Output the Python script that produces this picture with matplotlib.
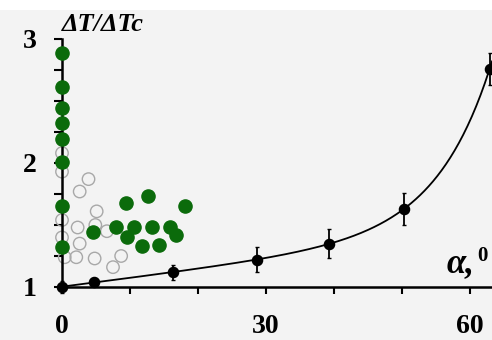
import matplotlib.pyplot as plt
import numpy as np
from matplotlib.ticker import MultipleLocator
from matplotlib.patches import Rectangle

# black series with fit line
alpha = [0, 4.7, 16.3, 28.7, 39.3, 50.3, 62.9]
ratio = [1.0, 1.04, 1.12, 1.22, 1.35, 1.63, 2.76]
ratio_err = [0.05, 0.03, 0.06, 0.10, 0.12, 0.13, 0.13]

# green filled points
green_x = [0, 0, 0, 0, 0, 0, 0, 0,
           4.5, 9.4, 12.7, 18.1, 8.0, 10.6, 13.3, 15.9, 9.5, 11.8, 14.3, 16.8]
green_y = [2.89, 2.61, 2.44, 2.32, 2.19, 2.01, 1.65, 1.32,
           1.44, 1.68, 1.73, 1.65, 1.48, 1.48, 1.48, 1.48, 1.40, 1.33, 1.34, 1.42]

# open circles
open_x = [0, 0, 3.9, 2.6, 5.1, 0, 2.3, 4.9, 6.6, 0, 2.6, 0.4, 2.1, 4.8, 8.7, 7.5]
open_y = [2.08, 1.93, 1.87, 1.77, 1.61, 1.54, 1.48, 1.50, 1.45, 1.40, 1.35,
          1.24, 1.24, 1.23, 1.25, 1.16]

serif = 'Liberation Serif'

fig = plt.figure(figsize=(4.92, 3.40), dpi=100, facecolor='#f3f3f3')
fig.patches.append(Rectangle((0, 0.97), 1, 0.03, transform=fig.transFigure,
                             facecolor='white', edgecolor='none', zorder=-1))
ax = fig.add_axes([62 / 492, 53 / 340, 430 / 492, 248 / 340])
ax.set_facecolor('#f3f3f3')

# fit y = a + m*x + b*exp(c*x)
xa = np.array(alpha)
ya = np.array(ratio)
best = None
for c in np.linspace(0.03, 0.25, 400):
    A = np.column_stack([np.ones_like(xa), xa, np.exp(c * xa)])
    coef, *_ = np.linalg.lstsq(A, ya, rcond=None)
    err = np.sum((A @ coef - ya) ** 2)
    if best is None or err < best[0]:
        best = (err, c, coef)
_, c, coef = best
xf = np.linspace(0, 63.24, 300)
yf = coef[0] + coef[1] * xf + coef[2] * np.exp(c * xf)
ax.plot(xf, yf, color='black', lw=1.3, clip_on=False, zorder=3)

ax.scatter(open_x, open_y, s=80, facecolors='none', edgecolors='#a8a8a8',
           linewidths=1.0, clip_on=False, zorder=2)
ax.scatter(green_x, green_y, s=90, color='#0b6b0b', clip_on=False, zorder=4)
ax.errorbar(alpha, ratio, yerr=ratio_err, fmt='o', color='black', ms=7.3,
            elinewidth=1.3, capsize=1.5, clip_on=False, zorder=5)

ax.set_xlim(0, 63.24)
ax.set_ylim(1, 3)
for s in ['top', 'right']:
    ax.spines[s].set_visible(False)
for s in ['left', 'bottom']:
    ax.spines[s].set_linewidth(1.8)

ax.set_xticks([0, 30, 60])
ax.xaxis.set_minor_locator(MultipleLocator(10))
ax.set_yticks([1, 2, 3])
ax.yaxis.set_minor_locator(MultipleLocator(0.25))
ax.tick_params(axis='x', which='both', direction='out', length=5, width=1.5, pad=14.5)
ax.tick_params(axis='y', which='both', direction='out', length=6, width=1.5, pad=12.5)
for lab in ax.get_xticklabels() + ax.get_yticklabels():
    lab.set_fontfamily(serif)
    lab.set_fontweight('bold')
    lab.set_fontsize(20)

fig.text(62 / 492, 1 - 31 / 340, 'ΔT/ΔTc', family=serif, weight='bold',
         style='italic', fontsize=19, ha='left', va='baseline')
fig.text(447 / 492, 1 - 272 / 340, 'α,', family=serif, weight='bold',
         style='italic', fontsize=25, ha='left', va='baseline')
fig.text(477 / 492, 1 - 261 / 340, '0', family=serif, weight='bold',
         fontsize=15, ha='left', va='baseline')

fig.savefig('out.png', dpi=100, facecolor=fig.get_facecolor())
